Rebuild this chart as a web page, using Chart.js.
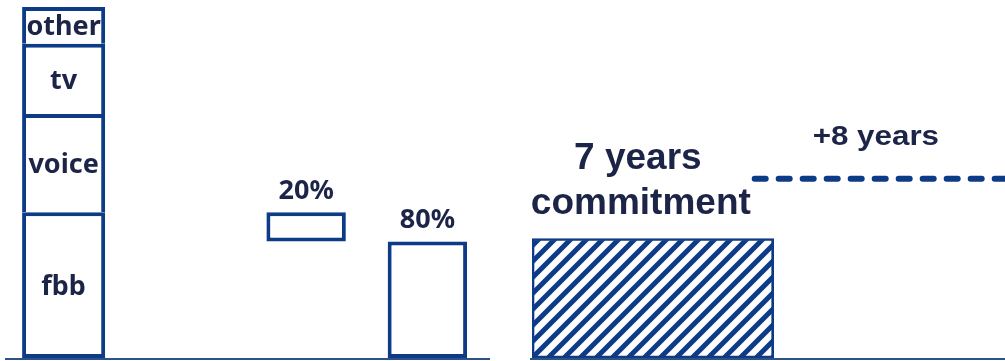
<!DOCTYPE html>
<html lang="en">
<head>
  <meta charset="UTF-8" />
  <title>Revenue split and commitment</title>
  <script src="https://cdn.jsdelivr.net/npm/chart.js"></script>
  <style>
    body {
      margin: 0;
      background: #fff;
    }
    .wrap {
      position: relative;
      width: 1005px;
      height: 361px;
    }
    #left, #right {
      position: absolute;
      top: 0;
    }
    #left { left: 0; }
    #right { left: 490px; }
  </style>
</head>
<body>

  <div class="wrap">
    <canvas id="left" width="490" height="361"></canvas>
    <canvas id="right" width="515" height="361"></canvas>
  </div>

  <script>
    // left part: revenue mix and fbb split
    const categories = ["mix", "gap", "fbb 20", "fbb 80"];
    const segmentNames = ["fbb", "voice", "tv", "other"];
    const segmentValues = [41.5, 28, 20, 10.5];
    const splitLabels = ["20%", "80%"];
    const splitShares = [0.2, 0.8];

    // right part: contract term in years
    const termCategories = ["extension", "commitment"];
    const commitmentYears = [0, 7];
    const extensionYears = [6.45, 15];
    const commitmentText = ["7 years", "commitment"];
    const extensionText = "+8 years";

    const navy = "#0d3b87";
    const textColor = "#1c2447";
    const axisColor = "#2d5286";

    // floating ranges for the stacked segments
    let running = 0;
    const segmentDatasets = segmentNames.map((name, i) => {
      const start = running;
      running += segmentValues[i];
      const data = categories.map((c, j) => j === 0 ? [start, running] : null);
      return {
        label: name,
        data,
        backgroundColor: "#fff",
        borderColor: navy,
        borderWidth: 4,
        borderSkipped: i === 0 ? false : "start",
        barPercentage: 0.685,
        categoryPercentage: 1
      };
    });

    const fbbTotal = segmentValues[0];
    const lowShare = fbbTotal * splitShares[1];
    const shareDatasets = [
      {
        label: splitLabels[0],
        data: categories.map((c, j) => j === 2 ? [lowShare, fbbTotal] : null)
      },
      {
        label: splitLabels[1],
        data: categories.map((c, j) => j === 3 ? [0, lowShare] : null)
      }
    ].map(d => Object.assign(d, {
      backgroundColor: "#fff",
      borderColor: navy,
      borderWidth: 4,
      borderSkipped: false,
      barPercentage: 0.655,
      categoryPercentage: 1,
      isShare: true
    }));

    const baseline = {
      id: "baseline",
      afterDatasetsDraw(chart, args, opts) {
        const ctx = chart.ctx;
        const area = chart.chartArea;
        ctx.save();
        ctx.strokeStyle = axisColor;
        ctx.lineWidth = 2;
        ctx.beginPath();
        ctx.moveTo(area.left + opts.from, area.bottom + 1);
        ctx.lineTo(chart.width, area.bottom + 1);
        ctx.stroke();
        ctx.restore();
      }
    };

    const leftLabels = {
      id: "leftLabels",
      afterDatasetsDraw(chart) {
        const ctx = chart.ctx;
        ctx.save();
        ctx.fillStyle = textColor;
        ctx.font = "bold 27px 'Noto Sans'";
        ctx.textAlign = "center";
        ctx.textBaseline = "middle";
        chart.data.datasets.forEach((ds, i) => {
          const meta = chart.getDatasetMeta(i);
          meta.data.forEach((el, j) => {
            if (ds.data[j] == null) return;
            const p = el.getProps(["x", "y", "base"], true);
            if (ds.isShare) {
              ctx.fillText(ds.label, p.x, Math.min(p.y, p.base) - 21);
            } else {
              ctx.fillText(ds.label, p.x, (p.y + p.base) / 2 + 2);
            }
          });
        });
        ctx.restore();
      }
    };

    new Chart(document.getElementById("left"), {
      type: "bar",
      data: {
        labels: categories,
        datasets: segmentDatasets.concat(shareDatasets)
      },
      options: {
        responsive: false,
        animation: false,
        grouped: false,
        layout: { padding: { left: 3, right: 2, top: 7, bottom: 3 } },
        plugins: {
          legend: { display: false },
          tooltip: { enabled: false },
          baseline: { from: 2 }
        },
        scales: {
          x: { display: false },
          y: { display: false, min: 0, max: 100 }
        }
      },
      plugins: [baseline, leftLabels]
    });

    // diagonal hatch for the commitment bar
    function makeHatch() {
      const s = 16;
      const c = document.createElement("canvas");
      c.width = s;
      c.height = s;
      const g = c.getContext("2d");
      g.strokeStyle = navy;
      g.lineWidth = 5;
      g.beginPath();
      g.moveTo(-s / 2, s / 2); g.lineTo(s / 2, -s / 2);
      g.moveTo(0, s); g.lineTo(s, 0);
      g.moveTo(s / 2, s * 1.5); g.lineTo(s * 1.5, s / 2);
      g.stroke();
      return g.createPattern(c, "repeat");
    }

    const rightLabels = {
      id: "rightLabels",
      afterDatasetsDraw(chart) {
        const ctx = chart.ctx;
        const area = chart.chartArea;
        ctx.save();
        ctx.fillStyle = textColor;
        ctx.textAlign = "center";
        ctx.textBaseline = "middle";

        const bar = chart.getDatasetMeta(0).data[0].getProps(["x", "y", "base", "height"], true);
        const top = bar.y - bar.height / 2;
        const cx = (bar.x + bar.base) / 2 - 12;
        ctx.font = "bold 37px 'Liberation Sans'";
        ctx.fillText(commitmentText[0], cx - 3, top - 80);
        ctx.fillText(commitmentText[1], cx, top - 35);

        const pts = chart.getDatasetMeta(1).data;
        const lx = (pts[0].x + area.right) / 2;
        ctx.font = "bold 28px 'Liberation Sans'";
        ctx.translate(lx - 4, pts[0].y - 41);
        ctx.scale(1.12, 1);
        ctx.fillText(extensionText, 0, 0);
        ctx.restore();
      }
    };

    new Chart(document.getElementById("right"), {
      type: "bar",
      data: {
        labels: termCategories,
        datasets: [
          {
            label: "commitment",
            data: [{ x: commitmentYears, y: termCategories[1] }],
            backgroundColor: makeHatch(),
            borderColor: navy,
            borderWidth: 2,
            borderSkipped: false,
            barPercentage: 1,
            categoryPercentage: 1
          },
          {
            type: "line",
            label: "extension",
            data: extensionYears.map(v => ({ x: v, y: termCategories[0] })),
            borderColor: navy,
            borderWidth: 6,
            borderDash: [11, 13],
            borderCapStyle: "round",
            pointRadius: 0,
            fill: false
          }
        ]
      },
      options: {
        indexAxis: "y",
        responsive: false,
        animation: false,
        layout: { padding: { left: 42, right: 0, top: 119, bottom: 3 } },
        plugins: {
          legend: { display: false },
          tooltip: { enabled: false },
          baseline: { from: -2 }
        },
        scales: {
          x: { type: "linear", display: false, min: 0, max: 13.7 },
          y: { type: "category", labels: termCategories, display: false }
        }
      },
      plugins: [baseline, rightLabels]
    });
  </script>

</body>
</html>
